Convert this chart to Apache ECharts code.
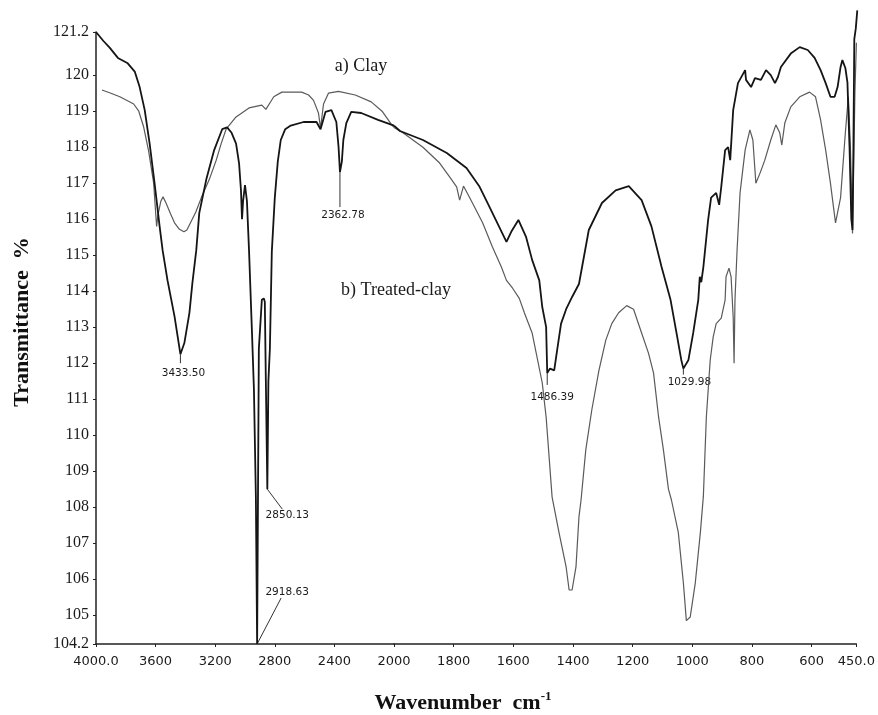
<!DOCTYPE html>
<html><head><meta charset="utf-8">
<script src="https://cdn.jsdelivr.net/npm/echarts@6/dist/echarts.min.js"></script>
<style>html,body{margin:0;padding:0;background:#fff}#c{width:878px;height:715px}</style>
</head><body><div id="c"></div>
<script>
// ---- data ----
const blackWavenumbers = [4000,3950,3907,3853,3787,3740,3707,3673,3640,3607,3573,3553,3520,3473,3433.5,3407,3373,3353,3327,3307,3260,3207,3153,3120,3090,3060,3040,3027,3020,3013,3000,2987,2973,2953,2940,2927,2918.63,2907,2887,2873,2867,2860,2850.13,2843,2833,2820,2800,2780,2760,2730,2693,2607,2520,2493,2460,2420,2387,2372,2362.78,2350,2340,2320,2287,2220,2107,2000,
  1980,1903,1823,1757,1713,1680,1647,1623,1607,1583,1557,1537,1513,1503,1490,1486.39,1477,1463,1453,1440,1423,1403,1380,1347,1303,1257,1213,1170,1137,1103,1073,1053,1037,1029.98,1013,997,980,975,970,963,947,937,920,910,903,890,880,873,863,847,823,820,803,790,770,753,737,723,713,703,670,640,613,590,570,553,537,523,513,503,497,487,480,473,467,463,460,457,452,447];
const blackTransmittance = [121.2,120.95,120.76,120.48,120.33,120.1,119.67,119.03,118.1,117.0,115.8,115.14,114.3,113.3,112.25,112.56,113.4,114.23,115.14,116.17,117.1,117.92,118.5,118.55,118.4,118.1,117.56,116.8,116.0,116.5,116.95,116.5,115.14,112.84,111.26,108.28,104.2,112.4,113.76,113.8,113.7,111.5,108.5,111.5,112.4,115.1,116.6,117.6,118.2,118.5,118.6,118.7,118.7,118.5,118.98,119.03,118.7,118.0,117.31,117.6,118.2,118.67,118.98,118.95,118.76,118.6,
  118.45,118.2,117.84,117.42,116.9,116.34,115.78,115.37,115.65,115.98,115.5,114.87,114.3,113.56,113.0,111.73,111.85,111.8,112.37,113.1,113.5,113.84,114.2,115.7,116.45,116.8,116.92,116.53,115.8,114.67,113.76,112.84,112.09,111.85,112.09,112.84,113.76,114.4,114.25,114.67,115.98,116.6,116.73,116.4,116.9,117.92,118.0,117.64,119.03,119.78,120.14,119.87,119.67,119.92,119.87,120.14,120.0,119.78,119.95,120.23,120.6,120.78,120.7,120.48,120.14,119.78,119.4,119.4,119.67,120.23,120.42,120.2,119.8,118.0,116.0,115.7,118.0,121.0,121.3,121.8];

const greyWavenumbers = [3960,3900,3840,3747,3713,3680,3647,3613,3600,3593,3585,3565,3550,3530,3500,3473,3440,3410,3390,3360,3330,3293,3240,3193,3160,3127,3060,2973,2887,2860,2853,2830,2807,2753,2620,2573,2540,2507,2493,2473,2440,2373,2260,2153,2080,2020,2000,
  1970,1903,1847,1813,1790,1780,1767,1737,1703,1670,1640,1623,1603,1580,1563,1537,1503,1490,1470,1447,1423,1413,1403,1390,1380,1373,1357,1337,1313,1290,1270,1247,1220,1197,1170,1147,1130,1113,1097,1080,1070,1047,1030,1020,1007,990,973,963,953,940,930,920,903,890,887,877,870,863,860,857,850,840,823,807,797,787,773,757,737,720,707,700,690,670,640,607,587,570,553,537,520,503,487,477,470,463,459,455,450];
const greyTransmittance = [119.59,119.5,119.4,119.2,119.0,118.56,117.9,117.0,116.2,115.8,116.1,116.5,116.62,116.45,116.15,115.9,115.72,115.65,115.7,115.95,116.2,116.6,117.1,117.64,118.1,118.5,118.84,119.09,119.17,119.05,119.0,119.25,119.4,119.53,119.53,119.45,119.3,118.95,118.53,119.2,119.5,119.55,119.45,119.26,119.0,118.65,118.55,
  118.4,118.0,117.56,117.17,116.9,116.53,116.92,116.45,115.9,115.23,114.67,114.3,114.09,113.8,113.4,112.84,111.45,110.5,108.28,107.3,106.34,105.7,105.7,106.34,107.73,108.2,109.6,110.7,111.8,112.64,113.1,113.4,113.6,113.5,112.84,112.28,111.73,110.5,109.6,108.5,108.2,107.3,105.9,104.85,104.95,105.9,107.3,108.3,110.5,112.09,112.73,113.1,113.25,113.76,114.4,114.64,114.4,113.28,112.0,113.76,115.14,116.73,117.92,118.48,118.2,117.0,117.28,117.64,118.2,118.62,118.4,118.06,118.67,119.12,119.4,119.53,119.4,118.76,117.92,117.0,115.9,116.6,118.4,119.4,118.0,115.6,117.5,119.5,120.9];

const peakWavenumbers = [3433.5, 2918.63, 2850.13, 2362.78, 1486.39, 1029.98];
const peakLabels = ['3433.50', '2918.63', '2850.13', '2362.78', '1486.39', '1029.98'];

const xTicksHigh = [4000, 3600, 3200, 2800, 2400, 2000];
const xTicksLow = [1800, 1600, 1400, 1200, 1000, 800, 600, 450];
const yTicks = [104.2,105,106,107,108,109,110,111,112,113,114,115,116,117,118,119,120,121.2];

const curveNames = ['a) Clay', 'b) Treated-clay'];
const axisTitleY = 'Transmittance  %';
const axisTitleX = 'Wavenumber  cm';

// ---- chart ----
function part(wn, t, lo, hi) {
  const out = [];
  for (let i = 0; i < wn.length; i++) if (wn[i] >= lo && wn[i] <= hi) out.push([wn[i], t[i]]);
  return out;
}
const Y_MIN = yTicks[0], Y_MAX = yTicks[yTicks.length - 1];
const axisCol = '#222';
function xFmt(v) { return (v === 4000 || v === 450) ? v.toFixed(1) : String(v); }

const xAxisCommon = {
  type: 'value', inverse: true,
  axisLine: { show: true, onZero: false, lineStyle: { color: axisCol, width: 1.5 } },
  splitLine: { show: false },
  axisTick: { show: true, length: 3, lineStyle: { color: axisCol } },
  axisLabel: { fontFamily: 'DejaVu Sans', fontSize: 13, color: '#1a1a1a', margin: 11, formatter: xFmt }
};

const chart = echarts.init(document.getElementById('c'), null, { renderer: 'canvas' });
const blackStyle = { color: '#151515', width: 1.8 };
const greyStyle = { color: '#5a5a5a', width: 1.2 };
function line(data, idx, style) {
  return { type: 'line', data: data, xAxisIndex: idx, yAxisIndex: idx, showSymbol: false, symbol: 'none',
    lineStyle: style, itemStyle: { color: style.color }, clip: false, silent: true, animation: false };
}

chart.setOption({
  animation: false,
  grid: [
    { left: 96, top: 32, width: 298, height: 612 },
    { left: 394, top: 32, width: 464, height: 612 }
  ],
  xAxis: [
    Object.assign({}, xAxisCommon, { gridIndex: 0, min: 2000, max: 4000,
      axisTick: Object.assign({}, xAxisCommon.axisTick, { customValues: xTicksHigh }),
      axisLabel: Object.assign({}, xAxisCommon.axisLabel, { customValues: xTicksHigh }) }),
    Object.assign({}, xAxisCommon, { gridIndex: 1, min: 450, max: 2000,
      axisTick: Object.assign({}, xAxisCommon.axisTick, { customValues: xTicksLow }),
      axisLabel: Object.assign({}, xAxisCommon.axisLabel, { customValues: xTicksLow }) })
  ],
  yAxis: [
    { type: 'value', gridIndex: 0, min: Y_MIN, max: Y_MAX,
      axisLine: { show: true, onZero: false, lineStyle: { color: axisCol, width: 1.5 } },
      splitLine: { show: false },
      axisTick: { show: true, length: 3, customValues: yTicks, lineStyle: { color: axisCol } },
      axisLabel: { customValues: yTicks, fontFamily: 'Liberation Serif', fontSize: 16, color: '#1a1a1a', margin: 7,
        padding: [0, 0, 8, 0], formatter: v => String(v) } },
    { type: 'value', gridIndex: 1, min: Y_MIN, max: Y_MAX, show: false, splitLine: { show: false } }
  ],
  series: [
    line(part(greyWavenumbers, greyTransmittance, 2000, 4000), 0, greyStyle),
    line(part(greyWavenumbers, greyTransmittance, 0, 2000), 1, greyStyle),
    line(part(blackWavenumbers, blackTransmittance, 2000, 4000), 0, blackStyle),
    line(part(blackWavenumbers, blackTransmittance, 0, 2000), 1, blackStyle)
  ]
});

// annotations: peak labels with leader lines (offsets in pixels)
const peakStyle = [
  { lead: [0, 9], text: [3, 19] },
  { lead: [24, -46], text: [30, -52] },
  { lead: [15, 20], text: [20, 26] },
  { lead: [0, 35], text: [3, 43] },
  { lead: [0, 12], text: [5, 24] },
  { lead: [0, 6], text: [6, 14] }
];
const graphics = [];
peakWavenumbers.forEach((wn, i) => {
  const t = blackTransmittance[blackWavenumbers.indexOf(wn)];
  const g = wn >= 2000 ? 0 : 1;
  const p = chart.convertToPixel({ gridIndex: g }, [wn, t]);
  const s = peakStyle[i];
  graphics.push({ type: 'line', silent: true, shape: { x1: p[0], y1: p[1], x2: p[0] + s.lead[0], y2: p[1] + s.lead[1] },
    style: { stroke: '#333', lineWidth: 1 } });
  graphics.push({ type: 'text', silent: true, x: p[0] + s.text[0], y: p[1] + s.text[1],
    style: { text: peakLabels[i], fill: '#1a1a1a', font: '10.5px "DejaVu Sans"', textAlign: 'center', textVerticalAlign: 'middle' } });
});
graphics.push({ type: 'text', silent: true, x: 361, y: 66,
  style: { text: curveNames[0], fill: '#1a1a1a', font: '18px "Liberation Serif"', textAlign: 'center', textVerticalAlign: 'middle' } });
graphics.push({ type: 'text', silent: true, x: 396, y: 290,
  style: { text: curveNames[1], fill: '#1a1a1a', font: '18px "Liberation Serif"', textAlign: 'center', textVerticalAlign: 'middle' } });
graphics.push({ type: 'text', silent: true, x: 22, y: 322, rotation: Math.PI / 2,
  style: { text: axisTitleY, fill: '#111', font: 'bold 22px "Liberation Serif"', textAlign: 'center', textVerticalAlign: 'middle' } });
graphics.push({ type: 'text', silent: true, x: 463, y: 703,
  style: { text: '{a|' + axisTitleX + '}{b|-1}', textAlign: 'center', textVerticalAlign: 'middle',
    rich: {
      a: { fontFamily: 'Liberation Serif', fontWeight: 'bold', fontSize: 22, fill: '#111', lineHeight: 26 },
      b: { fontFamily: 'Liberation Serif', fontWeight: 'bold', fontSize: 13, fill: '#111', verticalAlign: 'top', lineHeight: 14 }
    } } });
chart.setOption({ graphic: graphics });
</script>
</body></html>
